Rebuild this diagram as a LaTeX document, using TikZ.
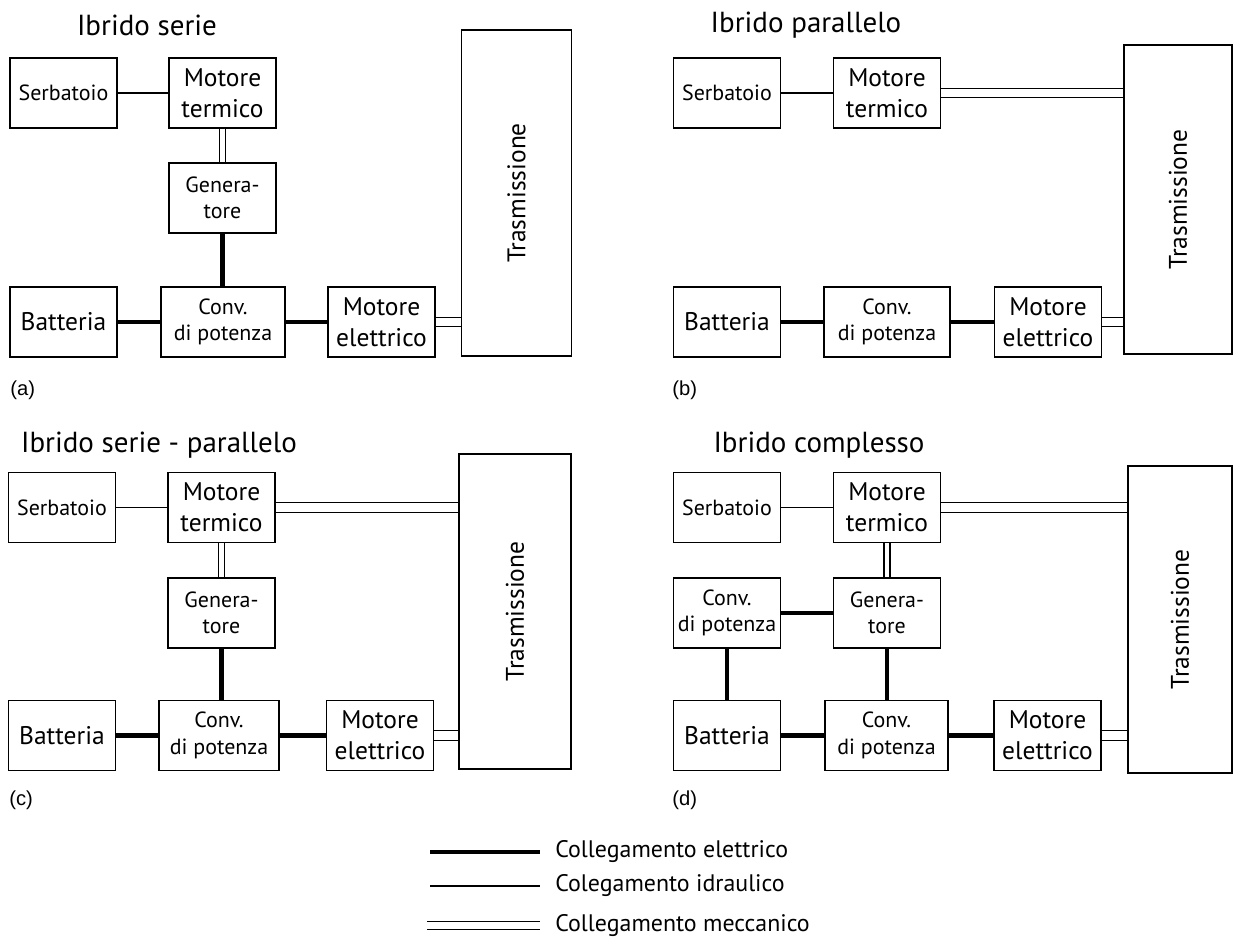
\documentclass[tikz,border=0pt]{standalone}
\usepackage{fontspec}
\setmainfont{PT Sans}
\newfontfamily\panelfont{Liberation Sans}
\usetikzlibrary{positioning}

\begin{document}
\begin{tikzpicture}[x=0.02cm, y=-0.02cm,
  blk/.style={draw, line width=.8pt, align=center, inner sep=1pt,
    minimum width=2.14cm, minimum height=1.4cm},
  big/.style={font=\fontsize{14.5}{17.5}\selectfont},
  small/.style={font=\fontsize{12.5}{15}\selectfont},
  trasm/.style={draw, line width=.8pt, inner sep=0pt, minimum width=2.2cm,
    font=\fontsize{14.5}{17.5}\selectfont},
  title/.style={font=\fontsize{16.5}{20}\selectfont},
  panel/.style={anchor=west, inner sep=0pt, font=\panelfont\fontsize{11.5}{14}\selectfont},
  elec/.style={line width=2.4pt},
  idra/.style={line width=.85pt},
  mech/.style={double, line width=.75pt, double distance=4.6pt},
  mechv/.style={double, line width=.75pt, double distance=2.6pt}]

  \useasboundingbox (0,0) rectangle (1234,941);

  % (a) Ibrido serie
  \node[title] (aTit) at (147,25) {Ibrido serie};
  \node[blk, small] (aSerb) at (63.5,93) {Serbatoio};
  \node[blk, big] (aMT) at (222.5,93) {Motore\\termico};
  \node[blk, small] (aGen) at (222.5,198) {Genera-\\tore};
  \node[blk, big] (aBat) at (63.5,322) {Batteria};
  \node[blk, small, minimum width=2.48cm] (aConv) at (223,322) {Conv.\\di potenza};
  \node[blk, big] (aME) at (381.5,322) {Motore\\elettrico};
  \node[trasm, minimum height=6.52cm] (aTr) at (516.5,193) {\rotatebox{90}{Trasmissione}};
  \node[panel] (aLab) at (10,390) {(a)};

  \draw[idra] (aSerb) -- (aMT);
  \draw[mechv] (aMT) -- (aGen);
  \draw[elec] (aGen) -- (aGen |- aConv.north);
  \draw[elec] (aBat) -- (aConv);
  \draw[elec] (aConv) -- (aME);
  \draw[mech] (aME.east) -- (aME.east -| aTr.west);

  % (b) Ibrido parallelo
  \node[title] (bTit) at (806,25) {Ibrido parallelo};
  \node[blk, small] (bSerb) at (727,93) {Serbatoio};
  \node[blk, big] (bMT) at (887,93) {Motore\\termico};
  \node[blk, big] (bBat) at (727,322) {Batteria};
  \node[blk, small, minimum width=2.52cm] (bConv) at (887,322) {Conv.\\di potenza};
  \node[blk, big] (bME) at (1048,322) {Motore\\elettrico};
  \node[trasm, minimum height=6.18cm, minimum width=2.16cm] (bTr) at (1178,199.5) {\rotatebox{90}{Trasmissione}};
  \node[panel] (bLab) at (672,390) {(b)};

  \draw[idra] (bSerb) -- (bMT);
  \draw[mech] (bMT.east) -- (bMT.east -| bTr.west);
  \draw[elec] (bBat) -- (bConv);
  \draw[elec] (bConv) -- (bME);
  \draw[mech] (bME.east) -- (bME.east -| bTr.west);

  % (c) Ibrido serie - parallelo
  \node[title] (cTit) at (159,445) {Ibrido serie - parallelo};
  \node[blk, small] (cSerb) at (62,507.5) {Serbatoio};
  \node[blk, big] (cMT) at (221.5,507.5) {Motore\\termico};
  \node[blk, small] (cGen) at (221.5,613) {Genera-\\tore};
  \node[blk, big] (cBat) at (62,735.5) {Batteria};
  \node[blk, small, minimum width=2.4cm] (cConv) at (219,735.5) {Conv.\\di potenza};
  \node[blk, big] (cME) at (380,735.5) {Motore\\elettrico};
  \node[trasm, minimum height=6.3cm, minimum width=2.24cm] (cTr) at (515,611.5) {\rotatebox{90}{Trasmissione}};
  \node[panel] (cLab) at (9,800) {(c)};

  \draw[idra] (cSerb) -- (cMT);
  \draw[mech] (cMT.east) -- (cMT.east -| cTr.west);
  \draw[mechv] (cMT) -- (cGen);
  \draw[elec] (cGen) -- (cGen |- cConv.north);
  \draw[elec] (cBat) -- (cConv);
  \draw[elec] (cConv) -- (cME);
  \draw[mech] (cME.east) -- (cME.east -| cTr.west);

  % (d) Ibrido complesso
  \node[title] (dTit) at (819,445) {Ibrido complesso};
  \node[blk, small] (dSerb) at (727,507.5) {Serbatoio};
  \node[blk, big] (dMT) at (887,507.5) {Motore\\termico};
  \node[blk, small] (dCU) at (727,613) {Conv.\\di potenza};
  \node[blk, small] (dGen) at (887,613) {Genera-\\tore};
  \node[blk, big] (dBat) at (727,735.5) {Batteria};
  \node[blk, small, minimum width=2.46cm] (dCL) at (886.5,735.5) {Conv.\\di potenza};
  \node[blk, big] (dME) at (1047.5,735.5) {Motore\\elettrico};
  \node[trasm, minimum height=6.14cm, minimum width=2.08cm] (dTr) at (1180,619.5) {\rotatebox{90}{Trasmissione}};
  \node[panel] (dLab) at (672,800) {(d)};

  \draw[idra] (dSerb) -- (dMT);
  \draw[mech] (dMT.east) -- (dMT.east -| dTr.west);
  \draw[mechv] (dMT) -- (dGen);
  \draw[elec] (dCU) -- (dGen);
  \draw[elec] (dCU) -- (dBat);
  \draw[elec] (dGen) -- (dGen |- dCL.north);
  \draw[elec] (dBat) -- (dCL);
  \draw[elec] (dCL) -- (dME);
  \draw[mech] (dME.east) -- (dME.east -| dTr.west);

  % Legenda
  \node[anchor=west, inner sep=0pt, font=\fontsize{13.6}{16}\selectfont] (lEl) at (555,852) {Collegamento elettrico};
  \node[anchor=west, inner sep=0pt, font=\fontsize{13.6}{16}\selectfont] (lId) at (555,886) {Colegamento idraulico};
  \node[anchor=west, inner sep=0pt, font=\fontsize{13.6}{16}\selectfont] (lMe) at (555,925.5) {Collegamento meccanico};
  \coordinate (lElA) at (430,852);
  \coordinate (lIdA) at (430,886);
  \coordinate (lMeA) at (427,925.5);
  \draw[elec] (lElA) -- ([xshift=-0.3cm]lEl.west);
  \draw[idra] (lIdA) -- ([xshift=-0.3cm]lId.west);
  \draw[mech, double distance=3.6pt] (lMeA) -- ([xshift=-0.3cm]lMe.west);

\end{tikzpicture}
\end{document}
